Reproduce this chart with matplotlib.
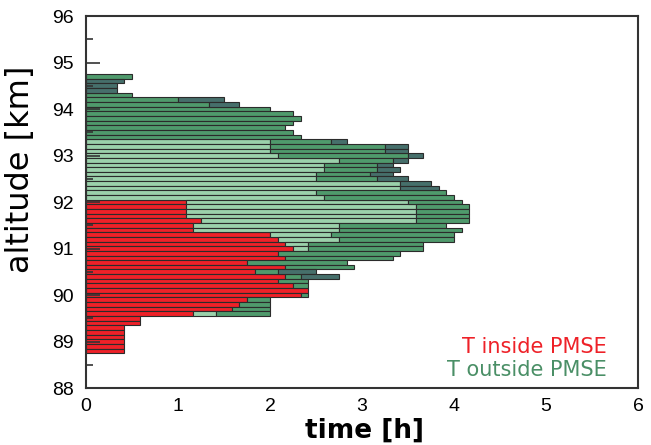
import numpy as np
import matplotlib
matplotlib.use("Agg")
import matplotlib.pyplot as plt
from matplotlib.ticker import MultipleLocator

plt.rcParams['font.family'] = ['Liberation Sans', 'DejaVu Sans']

# altitude bins (km), 0.1 km wide, top to bottom
altitude = np.round(np.arange(94.7, 88.75, -0.1), 1)

# time per bin in units of 5 minutes
t_inside = [0] * 27 + [13, 13, 13, 13, 15, 14, 14, 24, 25, 26, 27, 25, 26, 21, 26, 22,
                       26, 25, 27, 29, 28, 21, 20, 19, 14, 7, 7, 5, 5, 5, 5, 5, 5]
t_out_light = [0] * 14 + [24, 24, 24, 25, 33, 31, 31, 30, 30, 41, 41, 30, 31] + \
              [29, 30, 30, 30, 28, 19, 19, 8, 8, 3, 2] + [0] * 13 + [3] + [0] * 8
t_out_mid = [6, 0, 0, 0, 6, 12, 16, 24, 27, 28, 27, 26, 27, 28] + \
            [8, 15, 15, 17, 7, 7, 7, 7, 8, 0, 0, 17, 17] + \
            [7, 7, 7, 7, 7, 14, 16, 16, 15, 15, 15] + \
            [16, 14, 13, 9, 3, 2, 4, 2, 0, 1, 3, 4, 5, 7] + [0] * 8
t_out_dark = [0, 5, 4, 4, 0, 6, 4, 0, 0, 0, 0, 0, 0, 0] + \
             [2, 3, 3, 2, 2, 2, 3, 3, 4, 4, 5] + [0] * 17 + [5, 5] + [0] * 16

series = [t_inside, t_out_light, t_out_mid, t_out_dark]
colors = ['#ee2128', '#9bd1ab', '#4f9a6c', '#466f6b']

fig = plt.figure(figsize=(6.51, 4.45), dpi=100)
ax = fig.add_axes([0.132, 0.128, 0.848, 0.836])

left = np.zeros(len(altitude))
for vals, c in zip(series, colors):
    w = np.array(vals) / 12.0
    m = w > 0
    ax.barh(altitude[m], w[m], left=left[m], height=0.1, color=c,
            edgecolor='#2b2b2b', linewidth=0.8)
    left += w

ax.set_xlim(0, 6)
ax.set_ylim(88, 96)
ax.xaxis.set_major_locator(MultipleLocator(1))
ax.yaxis.set_major_locator(MultipleLocator(1))
ax.yaxis.set_minor_locator(MultipleLocator(0.5))
ax.tick_params(axis='both', which='both', direction='in', colors='#333333',
               labelcolor='black', labelsize=14)
ax.tick_params(axis='y', which='major', length=10, width=1.2, pad=9)
ax.tick_params(axis='y', which='minor', length=5, width=1.2)
ax.tick_params(axis='x', which='major', length=0, pad=7)
for s in ax.spines.values():
    s.set_color('#333333')
    s.set_linewidth(1.5)

ax.set_xlabel('time [h]', fontsize=19, fontweight='bold', family='DejaVu Sans')
ax.xaxis.set_label_coords(0.504, -0.08)
ax.set_ylabel('altitude [km]', fontsize=23, family='DejaVu Sans')
ax.yaxis.set_label_coords(-0.091, 0.589)

ax.text(0.944, 0.110, 'T inside PMSE', transform=ax.transAxes, ha='right',
        va='center', color='#ee2128', fontsize=15, family='DejaVu Sans')
ax.text(0.944, 0.048, 'T outside PMSE', transform=ax.transAxes, ha='right',
        va='center', color='#4a8f66', fontsize=15, family='DejaVu Sans')

fig.savefig('out.png', dpi=100)
